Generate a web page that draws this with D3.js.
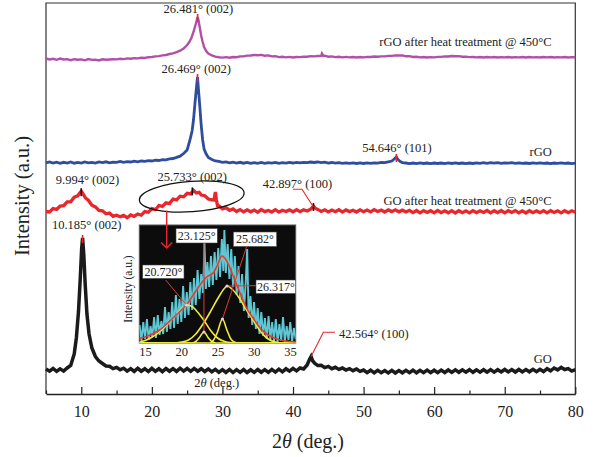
<!DOCTYPE html>
<html><head><meta charset="utf-8">
<script src="https://cdn.jsdelivr.net/npm/d3@7"></script>
<style>
body{margin:0;background:#fff}
svg{display:block}
text{font-family:"Liberation Serif","DejaVu Serif",serif;fill:#222}
</style>
</head><body>
<svg id="c" width="596" height="457"></svg>
<script>
// ---------- DATA ----------
const xTicks = [10,20,30,40,50,60,70,80];
const xMinor = [5,15,25,35,45,55,65,75];
const insetTicks = [15,20,25,30,35];

// rGO after heat treatment @ 450°C  [2θ, intensity a.u.]
const rgoHeat = [[5,335.5],[5.5,334.6],[6,335.2],[6.5,334.2],[7,335.4],[7.5,334.5],[8,334.9],[8.5,333.8],[9,334.8],[9.5,334.3],[10,334.6],[10.5,333.7],[11,334.9],[11.5,334.1],[12,334.4],[12.5,333.6],[13,334.7],[13.5,334.2],[14,334.5],[14.5,334.8],[15,334.6],[15.5,335.3],[16,334.9],[16.5,335.6],[17,335.2],[17.5,335.9],[18,335.6],[18.5,336.3],[19,336],[19.5,336.8],[20,337],[20.5,337.6],[21,337.9],[21.5,338.6],[22,339],[22.5,340],[23,340.6],[23.5,341.9],[24,343.3],[24.5,345.5],[25,349],[25.3,352],[25.6,356],[25.9,362],[26.1,367],[26.3,372],[26.48,377],[26.6,374],[26.8,366],[27,358],[27.2,352],[27.4,347],[27.7,343],[28,340.5],[28.5,338.5],[29,337.3],[29.5,336.7],[30,336.4],[30.5,336.9],[31,336.3],[31.5,337],[32,336.8],[32.5,337.6],[33,337.6],[33.5,338.4],[34,338.5],[34.5,339],[35,338.7],[35.5,339.1],[36,338.3],[36.5,338.6],[37,337.6],[37.5,337.8],[38,336.9],[38.5,337.2],[39,336.6],[39.5,337.1],[40,336.5],[40.5,337],[41,336.9],[41.5,337.4],[42,337.2],[42.5,337.9],[43,337.6],[43.5,338],[44,338.2],[44.1,340.5],[44.3,338],[44.5,338.3],[45,337.3],[45.5,337.6],[46,336.9],[46.5,337.2],[47,336.6],[47.5,337.1],[48,336.6],[48.5,337],[49,336.5],[49.5,337],[50,336.6],[50.5,337.1],[51,337],[51.5,337.5],[52,337.2],[52.5,337.6],[53,337.6],[53.5,338.1],[54,338.1],[54.5,338.6],[55,338.5],[55.5,338.6],[56,337.7],[56.5,337.8],[57,337],[57.5,337.2],[58,336.6],[58.5,337],[59,336.5],[59.5,336.9],[60,336.6],[60.5,337.1],[61,337.1],[61.5,337.6],[62,337.5],[62.5,338],[63,337.7],[63.5,337.9],[64,337.2],[64.5,337.4],[65,336.9],[65.5,337],[66,336.6],[66.5,337],[67,336.5],[67.5,337],[68,336.6],[68.5,337],[69,336.5],[69.5,336.9],[70,336.6],[70.5,337],[71,336.5],[71.5,336.9],[72,336.6],[72.5,337],[73,336.5],[73.5,337],[74,336.6],[74.5,336.9],[75,336.5],[75.5,337],[76,336.6],[76.5,337],[77,336.5],[77.5,336.9],[78,336.6],[78.5,337],[79,336.5],[79.5,336.9],[80,336.7]];

// rGO
const rgo = [[5,231.2],[5.5,232],[6,230.9],[6.5,231.8],[7,230.7],[7.5,231.7],[8,231],[8.5,232.1],[9,230.8],[9.5,231.6],[10,230.9],[10.5,232],[11,231.1],[11.5,231.7],[12,231],[12.5,232.1],[13,231.4],[13.5,232.2],[14,231.2],[14.5,231.9],[15,231.6],[15.5,232.5],[16,231.7],[16.5,232.4],[17,232],[17.5,232.8],[18,232.2],[18.5,233],[19,232.6],[19.5,233.3],[20,233],[20.5,233.8],[21,233.5],[21.5,234.3],[22,234.2],[22.5,235.1],[23,235.5],[23.5,236.6],[24,237.8],[24.5,240.5],[25,244],[25.4,254],[25.7,263],[25.9,274],[26.1,290],[26.3,305],[26.47,317],[26.6,305],[26.8,287],[27,268],[27.2,254],[27.4,245],[27.7,240],[28,236.5],[28.5,234.5],[29,233],[29.5,232.6],[30,231.6],[30.5,232.1],[31,231.1],[31.5,231.9],[32,230.9],[32.5,231.7],[33,230.8],[33.5,231.6],[34,230.6],[34.5,231.4],[35,230.7],[35.5,231.5],[36,230.6],[36.5,231.3],[37,230.9],[37.5,231.6],[38,230.7],[38.5,231.3],[39,230.9],[39.5,231.6],[40,231],[40.5,231.7],[41,231.1],[41.5,231.6],[42,231.4],[42.5,232],[43,231.5],[43.5,232],[44,231.3],[44.5,231.8],[45,230.9],[45.5,231.5],[46,230.8],[46.5,231.3],[47,230.6],[47.5,231.2],[48,230.6],[48.5,231.1],[49,230.5],[49.5,231.1],[50,230.5],[50.5,231.1],[51,230.6],[51.5,231.2],[52,230.9],[52.5,231.6],[53,231.4],[53.5,232.2],[54,233],[54.3,234.8],[54.646,237],[54.9,234.3],[55.2,232.4],[55.5,231.4],[56,231],[56.5,230.4],[57,231],[57.5,230.4],[58,231.1],[58.5,230.5],[59,231],[59.5,230.4],[60,231],[60.5,230.5],[61,231],[61.5,230.4],[62,231.1],[62.5,230.5],[63,231.1],[63.5,230.5],[64,231],[64.5,230.4],[65,231],[65.5,230.5],[66,231.1],[66.5,230.6],[67,231.3],[67.5,230.7],[68,231.3],[68.5,230.8],[69,231.3],[69.5,230.7],[70,231.2],[70.5,230.8],[71,231.3],[71.5,230.7],[72,231.2],[72.5,230.6],[73,231],[73.5,230.5],[74,231.1],[74.5,230.6],[75,231.2],[75.5,230.6],[76,231],[76.5,230.4],[77,231],[77.5,230.6],[78,231.2],[78.5,230.7],[79,231],[79.5,230.4],[80,230.9]];

// GO after heat treatment @ 450°C
const goHeat = [[5,182.5],[5.5,182],[6,185.4],[6.5,184.6],[7,188],[7.5,188.3],[8,192.2],[8.5,192.2],[9,196.8],[9.5,198.2],[9.8,201.3],[10,202.8],[10.3,199.6],[10.6,196],[11,193.8],[11.5,188.8],[12,187.1],[12.5,183.6],[13,183.2],[13.5,180.2],[14,180.9],[14.5,177.7],[15,178.8],[15.5,177.2],[16,178.6],[16.5,176.3],[17,179.1],[17.5,177.6],[18,180],[18.5,178.8],[19,182.4],[19.5,181.7],[20,185.4],[20.5,184.3],[21,188.5],[21.5,187.6],[22,191.1],[22.5,190.4],[23,195],[23.5,194.1],[24,197.8],[24.5,197.2],[25,200.7],[25.5,200.1],[25.9,203.6],[26.3,201],[26.7,201.7],[27,198.9],[27.5,198.3],[28,195],[28.5,194.2],[28.8,194],[29,202],[29.15,194],[29.3,188.5],[29.5,188.2],[30,185.2],[30.5,186.4],[31,183.6],[31.5,185.1],[32,182.5],[32.5,184.4],[33,182.1],[33.5,184.2],[34,182.2],[34.5,183.9],[35,181.8],[35.5,184.5],[36,182.4],[36.5,183.6],[37,182],[37.5,184.3],[38,181.9],[38.5,183.8],[39,182.5],[39.5,184.1],[40,182.2],[40.5,184.4],[41,182.3],[41.5,184.2],[42,183],[42.5,184.8],[42.9,188],[43.2,185.5],[43.5,184.6],[44,182.6],[44.5,184.2],[45,182.1],[45.5,184],[46,182.3],[46.5,184.3],[47,181.9],[47.5,184.1],[48,182.4],[48.5,183.8],[49,182],[49.5,184.2],[50,182.3],[50.5,184],[51,182.1],[51.5,184.3],[52,182.5],[52.5,183.9],[53,182],[53.5,184.1],[54,182.4],[54.5,184.2],[55,182.2],[55.5,183.8],[56,182],[56.5,183.7],[57,181.4],[57.5,183.5],[58,181.2],[58.5,183.4],[59,181.5],[59.5,183.3],[60,181.1],[60.5,183.5],[61,181.4],[61.5,183.2],[62,181.2],[62.5,183.4],[63,181],[63.5,183.3],[64,181.3],[64.5,183.1],[65,181.1],[65.5,183.4],[66,181.3],[66.5,183.2],[67,181.5],[67.5,183.5],[68,181.2],[68.5,183.3],[69,181.4],[69.5,183.5],[70,181.2],[70.5,183.3],[71,181.5],[71.5,183.4],[72,181.2],[72.5,183.2],[73,181],[73.5,183.3],[74,181.3],[74.5,183.1],[75,181.4],[75.5,183.4],[76,181.2],[76.5,183.3],[77,181.5],[77.5,183.2],[78,181.1],[78.5,183.3],[79,181.4],[79.5,183.2],[80,181.8]];

// GO
const go = [[5,25],[5.5,22.8],[6,25.5],[6.5,22.6],[7,25.2],[7.5,22.9],[8,26],[8.5,28.5],[9,40],[9.3,56],[9.6,82],[9.85,115],[10.05,145],[10.185,156],[10.35,140],[10.55,110],[10.8,80],[11.1,60],[11.5,46],[12,37.5],[12.5,33],[13,30.5],[13.5,28],[14,27.8],[14.5,25.4],[15,26.6],[15.5,24.2],[16,25.8],[16.5,22.9],[17,25.4],[17.5,22.6],[18,25.7],[18.5,22.8],[19,25.3],[19.5,22.5],[20,25.6],[20.5,22.7],[21,25.2],[21.5,22.4],[22,25.5],[22.5,22.8],[23,25.4],[23.5,22.6],[24,25.8],[24.5,22.9],[25,25.5],[25.5,22.7],[26,25.6],[26.5,22.8],[27,25.3],[27.5,22.5],[28,25.1],[28.5,22.2],[29,24.6],[29.5,21.7],[30,24.4],[30.5,21.6],[31,24.5],[31.5,21.5],[32,24.3],[32.5,21.7],[33,24.4],[33.5,21.5],[34,24.2],[34.5,21.6],[35,24.5],[35.5,21.8],[36,24.4],[36.5,21.7],[37,24.6],[37.5,21.9],[38,24.8],[38.5,22.2],[39,25.2],[39.5,22.8],[40,25.6],[40.5,23.1],[41,26],[41.5,25],[42,29],[42.3,34],[42.564,37.5],[42.8,33],[43.1,30.5],[43.5,28.6],[44,28.8],[44.5,26.4],[45,27.6],[45.5,25.3],[46,26.7],[46.5,24.6],[47,26],[47.5,23.9],[48,25.4],[48.5,23.3],[49,25],[49.5,22.6],[50,24],[50.5,21.4],[51,23.8],[51.5,21.2],[52,23.7],[52.5,21.3],[53,23.5],[53.5,21.1],[54,23.6],[54.5,21],[55,23.4],[55.5,21.2],[56,23.6],[56.5,21.3],[57,23.8],[57.5,21.2],[58,23.7],[58.5,21.4],[59,23.9],[59.5,21.3],[60,23.8],[60.5,21.4],[61,23.9],[61.5,21.5],[62,24],[62.5,21.6],[63,24.2],[63.5,21.7],[64,24.1],[64.5,21.8],[65,24.3],[65.5,21.7],[66,24.2],[66.5,21.9],[67,24.3],[67.5,21.8],[68,24.4],[68.5,21.9],[69,24.3],[69.5,22],[70,24.5],[70.5,22.1],[71,24.4],[71.5,22],[72,24.5],[72.5,22.1],[73,24.4],[73.5,22.2],[74,24.6],[74.5,22.3],[75,24.7],[75.5,22.5],[76,25.3],[76.5,23.2],[77,26],[77.5,24.1],[78,26.6],[78.5,24.5],[79,25.4],[79.5,22.9],[80,24.3]];

// Inset: measured data (cyan), fit envelope (red) and component peaks (yellow)
const insetData = [[14.25,18],[14.5,2],[14.75,21],[15,4],[15.25,24],[15.5,3],[15.75,17],[16,6],[16.25,26],[16.5,5],[16.75,28],[17,8],[17.25,22],[17.5,9],[17.75,36],[18,11],[18.25,31],[18.5,14],[18.75,41],[19,15],[19.25,48],[19.5,19],[19.75,44],[20,21],[20.25,57],[20.5,25],[20.75,51],[21,28],[21.25,61],[21.5,33],[21.75,65],[22,38],[22.25,73],[22.5,44],[22.75,69],[23,50],[23.2,100],[23.4,54],[23.6,81],[23.85,56],[24.1,87],[24.35,58],[24.6,91],[24.85,63],[25.1,95],[25.35,66],[25.6,104],[25.8,72],[25.95,113],[26.15,70],[26.4,99],[26.65,64],[26.9,94],[27.15,56],[27.4,87],[27.65,48],[27.9,77],[28.15,40],[28.4,69],[28.65,32],[28.9,61],[29.1,94],[29.3,25],[29.55,47],[29.8,18],[30.05,41],[30.3,14],[30.55,35],[30.8,9],[31.05,31],[31.3,7],[31.55,25],[31.8,4],[32.05,27],[32.3,3],[32.55,21],[32.8,2],[33.05,24],[33.3,1],[33.55,19],[33.8,2],[34.05,26],[34.3,1],[34.55,17],[34.8,3],[35.05,21],[35.3,1],[35.55,15],[35.8,4]];
const insetFit = [[14.2,4.5],[15,6],[16,9],[17,13],[18,19],[19,26],[20,33],[21,41],[22,52],[23,62],[23.5,66],[24,68],[24.5,71],[25,78],[25.6,87],[26,85],[26.5,79],[27,70],[28,52],[29,35],[30,24],[31,14],[32,8],[33,4.5],[34,2.5],[35,1.5],[35.8,1]];
const peak1 = [[14.2,0.8],[15,2.5],[16,6],[17,11],[18,18],[19,26],[20,34],[20.72,38],[21.5,36.5],[22,33],[23,24],[24,13],[25,5],[26,1.5],[27,0.3],[28,0],[35.8,0]];
const peak2 = [[14.2,0],[21.5,0],[22,1.5],[22.5,5.5],[23.125,11],[23.7,5.5],[24.2,1.5],[24.8,0],[35.8,0]];
const peak3 = [[14.2,0],[24,0],[24.5,3.5],[25,11],[25.682,24],[26.3,13],[26.8,4.5],[27.3,1],[28,0],[35.8,0]];
const peak4 = [[14.2,0],[19,0],[20,1],[21,3],[22,9],[23,19],[24,31],[25,44],[26,55],[26.317,57],[27,54],[28,45],[29,33],[30,22],[31,11],[32,4],[33,1],[34,0],[35.8,0]];
const insetPeaks = [20.720, 23.125, 25.682, 26.317];
const insetPeakLabels = ["20.720°","23.125°","25.682°","26.317°"];

// ---------- CHART ----------
const svg = d3.select("#c");
const x = d3.scaleLinear().domain([5,80]).range([46,575.3]);
const y = d3.scaleLinear().domain([0,391]).range([394,3]);
const line = d3.line().x(d=>x(d[0])).y(d=>y(d[1]));

// frame
svg.append("path").attr("d",`M${x(5)},${y(0)}V${y(391)}H${x(80)}V${y(0)}`)
  .attr("fill","none").attr("stroke","#333").attr("stroke-width",1.2);

const series = [
  {d:rgoHeat, c:"#b24fa7", w:2.4},
  {d:rgo, c:"#2f4c9f", w:2.8},
  {d:goHeat, c:"#e8262b", w:3.3},
  {d:go, c:"#1b1b1b", w:3.5}
];
series.forEach(s=>{
  svg.append("path").datum(s.d).attr("d",line).attr("fill","none")
    .attr("stroke",s.c).attr("stroke-width",s.w).attr("stroke-linejoin","miter").attr("stroke-miterlimit",3);
});

// x axis
const gx = svg.append("g").attr("transform",`translate(0,${y(0)})`);
gx.call(d3.axisBottom(x).tickValues(xTicks).tickSize(-7).tickSizeOuter(0).tickPadding(11.5));
gx.selectAll("text").attr("font-size",16).attr("font-family","Liberation Serif, serif").attr("fill","#222");
gx.selectAll("line").attr("stroke","#222").attr("stroke-width",1.2);
gx.select(".domain").attr("stroke","#222").attr("stroke-width",1.4);
const gm = svg.append("g").attr("transform",`translate(0,${y(0)})`);
gm.call(d3.axisBottom(x).tickValues(xMinor).tickSize(-3.5).tickFormat(""));
gm.select(".domain").remove();
gm.selectAll("line").attr("stroke","#222").attr("stroke-width",1.2);

// axis titles
const xt = svg.append("text").attr("x",308).attr("y",448).attr("text-anchor","middle").attr("font-size",20);
xt.append("tspan").text("2");
xt.append("tspan").attr("font-style","italic").text("θ");
xt.append("tspan").text(" (deg.)");
svg.append("text").attr("transform","translate(29,196) rotate(-90)").attr("text-anchor","middle")
  .attr("font-size",20.5).text("Intensity (a.u.)");

// peak markers
function valAt(arr, t){ return arr.reduce((a,b)=>Math.abs(b[0]-t)<Math.abs(a[0]-t)?b:a)[1]; }
const marks = [
  {d:rgoHeat,t:26.481,c:"#e8262b"},
  {d:rgo,t:26.469,c:"#e8262b"},
  {d:rgo,t:54.646,c:"#e8262b"},
  {d:goHeat,t:9.994,c:"#111"},
  {d:goHeat,t:25.733,c:"#111"},
  {d:goHeat,t:42.897,c:"#111"},
  {d:go,t:10.185,c:"#e8262b"}
];
marks.forEach(m=>{
  const yy = y(valAt(m.d,m.t));
  svg.append("line").attr("x1",x(m.t)).attr("x2",x(m.t)).attr("y1",yy-3).attr("y2",yy+5)
    .attr("stroke",m.c).attr("stroke-width",1.6);
});

// leader lines
const p1 = [x(42.897), y(valAt(goHeat,42.897))+1];
svg.append("path").attr("d",`M${x(40.0)},189.3H${x(41.27)}L${p1[0]},${p1[1]}`)
  .attr("fill","none").attr("stroke","#e8262b").attr("stroke-width",1.1);
const p2 = [x(42.564), y(valAt(go,42.564))];
svg.append("path").attr("d",`M${x(45.95)},332.3H${x(44.3)}L${p2[0]},${p2[1]}`)
  .attr("fill","none").attr("stroke","#e8262b").attr("stroke-width",1.1);

// labels
const fs = 12.5;
const labels = [
  {t:"26.481° (002)", x:198.3, y:13, a:"middle"},
  {t:"rGO after heat treatment @ 450°C", x:551.7, y:45.5, a:"end"},
  {t:"26.469° (002)", x:196.2, y:72.5, a:"middle"},
  {t:"54.646° (101)", x:397, y:152, a:"middle"},
  {t:"rGO", x:551.7, y:156, a:"end"},
  {t:"9.994° (002)", x:87.5, y:183.5, a:"middle"},
  {t:"25.733° (002)", x:192.2, y:180.5, a:"middle"},
  {t:"42.897° (100)", x:297.5, y:187.5, a:"middle"},
  {t:"GO after heat treatment @ 450°C", x:551.7, y:204.5, a:"end"},
  {t:"10.185° (002)", x:86.7, y:228.5, a:"middle"},
  {t:"42.564° (100)", x:373.8, y:338, a:"middle"},
  {t:"GO", x:551.7, y:362.5, a:"end"}
];
labels.forEach(l=>svg.append("text").attr("x",l.x).attr("y",l.y).attr("text-anchor",l.a)
  .attr("font-size",fs).text(l.t));

// ellipse around the broad peak
svg.append("ellipse").attr("cx",x(25.65)).attr("cy",196.5).attr("rx",52.5).attr("ry",15.2)
  .attr("transform",`rotate(-4 ${x(25.65)} 196.5)`)
  .attr("fill","none").attr("stroke","#111").attr("stroke-width",1.2);

// ---------- INSET ----------
const ix = d3.scaleLinear().domain([14.2,35.8]).range([139.3,295.7]);
const iy = d3.scaleLinear().domain([0,118]).range([343,225]);
const ig = svg.append("g");
ig.append("rect").attr("x",ix(14.2)).attr("y",iy(118)).attr("width",ix(35.8)-ix(14.2)).attr("height",iy(0)-iy(118))
  .attr("fill","#0c0c0c").attr("stroke","#555").attr("stroke-width",1);
svg.append("defs").append("clipPath").attr("id","ic").append("rect")
  .attr("x",ix(14.2)).attr("y",iy(118)).attr("width",ix(35.8)-ix(14.2)).attr("height",iy(0)-iy(118));
const ic = ig.append("g").attr("clip-path","url(#ic)");
const iline = d3.line().x(d=>ix(d[0])).y(d=>iy(d[1]));
const icurve = d3.line().x(d=>ix(d[0])).y(d=>iy(d[1])).curve(d3.curveMonotoneX);
ic.append("path").datum(insetData).attr("d",iline).attr("fill","none").attr("stroke","#5fc7d3").attr("stroke-width",1.9);
[peak1,peak2,peak3,peak4].forEach(p=>ic.append("path").datum(p).attr("d",icurve).attr("fill","none")
  .attr("stroke","#f2ea35").attr("stroke-width",1.6));
ic.append("path").datum(insetFit).attr("d",icurve).attr("fill","none").attr("stroke","#ea3a2c").attr("stroke-width",1.6);

// inset peak annotations
const pk = [[peak1,20.720],[peak2,23.125],[peak3,25.682],[peak4,26.317]].map(([p,t])=>[ix(t), iy(valAt(p,t))]);
const boxes = [
  {x:142.7,y:265,w:41.3,h:13.5, lx:165.7, ly:280},
  {x:176,y:228.5,w:41.3,h:14.5, lx:pk[1][0], ly:243},
  {x:233.3,y:232,w:43.4,h:14.5, lx:246.7, ly:246.5},
  {x:256,y:280,w:39.7,h:13.5, lx:256, ly:285.7}
];
boxes.forEach((b,i)=>{
  ig.append("line").attr("x1",b.lx).attr("y1",b.ly).attr("x2",pk[i][0]).attr("y2",pk[i][1])
    .attr("stroke","#e23a30").attr("stroke-width",1);
  ig.append("circle").attr("cx",pk[i][0]).attr("cy",pk[i][1]).attr("r",1.6).attr("fill","#f4c9d0");
});
boxes.forEach((b,i)=>{
  ig.append("rect").attr("x",b.x).attr("y",b.y).attr("width",b.w).attr("height",b.h)
    .attr("fill","#fff").attr("stroke","#444").attr("stroke-width",0.6);
  ig.append("text").attr("x",b.x+b.w/2).attr("y",b.y+b.h/2+4.2).attr("text-anchor","middle")
    .attr("font-size",12).text(insetPeakLabels[i]);
});

// arrow from ellipse to inset
svg.append("path").attr("d",`M${x(22.1)},210.5V248`).attr("stroke","#e8262b").attr("stroke-width",1.5).attr("fill","none");
svg.append("path").attr("d",`M${x(22.1)-5.5},242.5L${x(22.1)},248L${x(22.1)+5.5},242.5`)
  .attr("stroke","#e8262b").attr("stroke-width",1.5).attr("fill","none");

// inset axis
const gix = svg.append("g").attr("transform",`translate(0,${iy(0)})`);
gix.call(d3.axisBottom(ix).tickValues(insetTicks).tickSize(0).tickPadding(4.5));
gix.select(".domain").remove();
gix.selectAll("text").attr("font-size",12.5).attr("font-family","Liberation Serif, serif").attr("fill","#222");
const ixt = svg.append("text").attr("x",216.7).attr("y",387).attr("text-anchor","middle").attr("font-size",12.5);
ixt.append("tspan").text("2");
ixt.append("tspan").attr("font-style","italic").text("θ");
ixt.append("tspan").text(" (deg.)");
svg.append("text").attr("transform","translate(132,289) rotate(-90)").attr("text-anchor","middle")
  .attr("font-size",11.5).text("Intensity (a.u.)");
</script>
</body></html>
